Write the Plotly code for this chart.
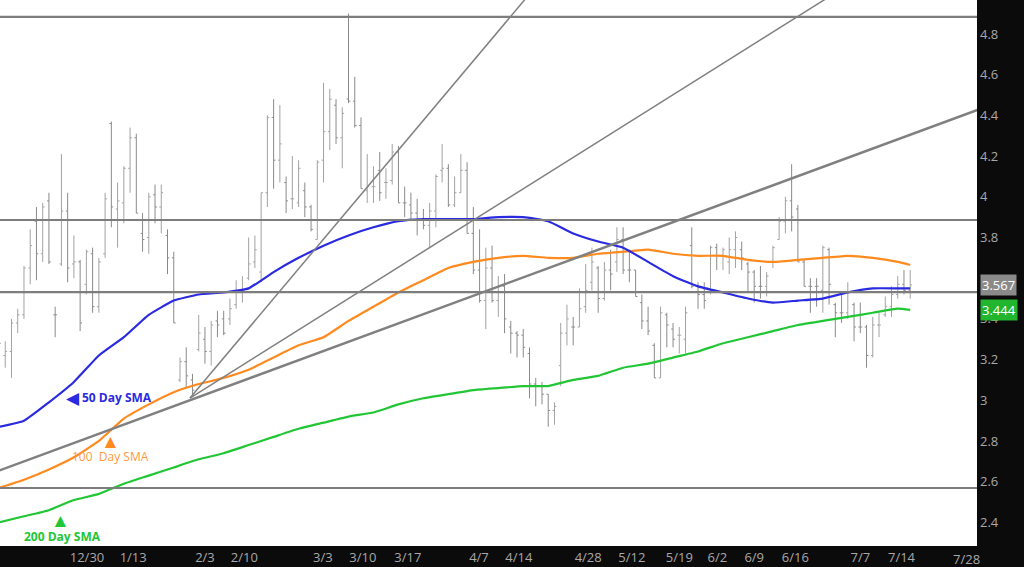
import plotly.graph_objects as go

# daily bars (bar index 0..146)
opens = [3.25, 3.22, 3.24, 3.38, 3.42, 3.65, 3.88, 3.72, 3.98, 3.42,
         3.67, 3.93, 3.67, 3.68, 3.57, 3.72, 3.46, 3.72, 4.36, 3.94,
         3.97, 4.14, 4.29, 3.82, 3.80, 4.01, 3.95, 3.81, 3.70, 3.10,
         3.19, 3.10, 3.25, 3.30, 3.24, 3.39, 3.40, 3.40, 3.47, 3.54,
         3.60, 3.68, 3.63, 4.02, 4.39, 4.18, 4.07, 3.99, 3.97, 4.03,
         3.95, 3.79, 4.18, 4.32, 4.45, 4.29, 4.48, 4.47, 4.35, 4.03,
         4.05, 4.13, 4.07, 4.08, 4.22, 3.97, 3.96, 3.92, 3.89, 3.86,
         3.93, 4.13, 4.14, 3.96, 4.02, 4.13, 3.82, 3.64, 3.49, 3.65,
         3.49, 3.56, 3.36, 3.33, 3.32, 3.23, 3.08, 3.07, 3.03, 2.95,
         3.17, 3.33, 3.36, 3.36, 3.46, 3.58, 3.65, 3.50, 3.64, 3.68,
         3.79, 3.64, 3.64, 3.48, 3.39, 3.27, 3.11, 3.42, 3.35, 3.32,
         3.30, 3.76, 3.56, 3.52, 3.53, 3.75, 3.71, 3.68, 3.74, 3.74,
         3.67, 3.63, 3.56, 3.56, 3.68, 3.79, 3.88, 3.98, 3.94, 3.68,
         3.56, 3.56, 3.54, 3.74, 3.47, 3.43, 3.43, 3.47, 3.36, 3.36,
         3.22, 3.37, 3.42, 3.46, 3.52, 3.57, 3.54]
highs = [3.35, 3.29, 3.40, 3.45, 3.66, 3.84, 3.95, 3.97, 4.02, 3.46,
         4.21, 4.02, 3.81, 3.69, 3.74, 3.75, 3.70, 4.02, 4.37, 4.07,
         4.15, 4.34, 4.31, 3.92, 4.02, 4.06, 4.06, 3.84, 3.73, 3.21,
         3.26, 3.13, 3.42, 3.36, 3.39, 3.44, 3.44, 3.50, 3.59, 3.61,
         3.80, 3.81, 4.02, 4.40, 4.48, 4.45, 4.10, 4.20, 4.18, 4.07,
         3.96, 4.18, 4.56, 4.53, 4.48, 4.44, 4.90, 4.59, 4.39, 4.21,
         4.15, 4.22, 4.14, 4.26, 4.25, 4.05, 4.02, 3.99, 3.94, 3.97,
         4.11, 4.26, 4.16, 4.10, 4.21, 4.17, 3.95, 3.84, 3.75, 3.76,
         3.61, 3.62, 3.39, 3.34, 3.35, 3.26, 3.11, 3.09, 3.03, 2.99,
         3.38, 3.47, 3.41, 3.55, 3.67, 3.75, 3.66, 3.68, 3.74, 3.85,
         3.85, 3.74, 3.64, 3.52, 3.46, 3.28, 3.46, 3.43, 3.38, 3.36,
         3.46, 3.85, 3.58, 3.58, 3.76, 3.77, 3.75, 3.80, 3.83, 3.78,
         3.68, 3.64, 3.66, 3.63, 3.76, 3.90, 4.00, 4.16, 3.96, 3.69,
         3.60, 3.60, 3.76, 3.75, 3.48, 3.53, 3.58, 3.48, 3.48, 3.37,
         3.41, 3.43, 3.51, 3.56, 3.61, 3.64, 3.64]
lows = [3.19, 3.16, 3.11, 3.33, 3.40, 3.57, 3.59, 3.68, 3.67, 3.31,
        3.66, 3.58, 3.60, 3.34, 3.52, 3.43, 3.43, 3.70, 3.85, 3.75,
        3.87, 4.02, 3.92, 3.73, 3.72, 3.87, 3.82, 3.62, 3.38, 3.09,
        3.06, 3.02, 3.24, 3.18, 3.17, 3.31, 3.32, 3.37, 3.45, 3.48,
        3.59, 3.65, 3.58, 3.95, 4.04, 4.07, 3.92, 3.94, 3.95, 3.90,
        3.83, 3.79, 4.07, 4.23, 4.26, 4.14, 4.46, 4.34, 4.04, 3.97,
        3.97, 3.98, 3.99, 4.06, 3.97, 3.90, 3.88, 3.81, 3.84, 3.75,
        3.85, 4.07, 3.95, 3.95, 4.02, 3.82, 3.62, 3.48, 3.35, 3.48,
        3.41, 3.33, 3.23, 3.21, 3.21, 3.01, 2.97, 2.98, 2.87, 2.88,
        3.07, 3.27, 3.27, 3.36, 3.43, 3.54, 3.43, 3.49, 3.54, 3.63,
        3.62, 3.58, 3.51, 3.35, 3.32, 3.11, 3.11, 3.26, 3.26, 3.23,
        3.23, 3.55, 3.45, 3.45, 3.52, 3.64, 3.64, 3.62, 3.65, 3.64,
        3.53, 3.48, 3.50, 3.51, 3.65, 3.79, 3.82, 3.83, 3.68, 3.56,
        3.43, 3.46, 3.43, 3.47, 3.31, 3.38, 3.40, 3.29, 3.33, 3.16,
        3.21, 3.31, 3.41, 3.41, 3.50, 3.52, 3.50]
closes = [3.28, 3.24, 3.38, 3.42, 3.65, 3.76, 3.72, 3.95, 3.68, 3.42,
          3.93, 3.65, 3.68, 3.38, 3.73, 3.46, 3.68, 3.99, 3.95, 3.98,
          4.14, 4.29, 3.92, 3.79, 4.00, 3.95, 4.02, 3.70, 3.38, 3.19,
          3.12, 3.05, 3.33, 3.24, 3.37, 3.37, 3.33, 3.45, 3.54, 3.54,
          3.67, 3.74, 4.02, 4.39, 4.18, 4.26, 3.98, 3.99, 4.14, 3.95,
          3.84, 4.17, 4.32, 4.48, 4.29, 4.41, 4.47, 4.35, 4.04, 4.05,
          4.05, 4.02, 4.07, 4.22, 3.97, 3.97, 3.92, 3.89, 3.86, 3.93,
          4.10, 4.14, 3.96, 4.02, 4.13, 3.82, 3.64, 3.49, 3.65, 3.49,
          3.56, 3.40, 3.33, 3.32, 3.26, 3.08, 3.07, 3.03, 2.95, 2.97,
          3.33, 3.40, 3.36, 3.45, 3.54, 3.68, 3.50, 3.64, 3.62, 3.79,
          3.64, 3.64, 3.51, 3.39, 3.34, 3.11, 3.43, 3.37, 3.30, 3.32,
          3.43, 3.56, 3.52, 3.49, 3.75, 3.71, 3.74, 3.74, 3.80, 3.70,
          3.63, 3.56, 3.56, 3.61, 3.75, 3.88, 3.98, 3.90, 3.68, 3.56,
          3.56, 3.56, 3.75, 3.57, 3.43, 3.43, 3.53, 3.36, 3.36, 3.22,
          3.37, 3.37, 3.46, 3.52, 3.57, 3.54, 3.567]

# moving averages, sampled every 4 bars
sma_idx = [0, 4, 8, 12, 16, 20, 24, 28, 32, 36, 40, 44, 48, 52, 56, 60, 64, 68, 72,
           76, 80, 84, 88, 92, 96, 100, 104, 108, 112, 116, 120, 124, 128, 132,
           136, 140, 144, 146]
sma50 = [2.87, 2.90, 2.99, 3.09, 3.22, 3.31, 3.42, 3.49, 3.52, 3.53, 3.55, 3.63,
         3.70, 3.76, 3.81, 3.85, 3.88, 3.89, 3.89, 3.89, 3.90, 3.90, 3.88, 3.82,
         3.78, 3.75, 3.68, 3.61, 3.56, 3.53, 3.50, 3.48, 3.49, 3.50, 3.53, 3.55,
         3.55, 3.55]
sma100 = [2.57, 2.61, 2.66, 2.72, 2.80, 2.91, 2.98, 3.04, 3.08, 3.11, 3.15, 3.21,
          3.27, 3.31, 3.39, 3.46, 3.53, 3.59, 3.65, 3.68, 3.70, 3.71, 3.70, 3.70,
          3.72, 3.73, 3.74, 3.72, 3.71, 3.71, 3.69, 3.68, 3.69, 3.70, 3.71, 3.70,
          3.68, 3.665]
sma200 = [2.40, 2.43, 2.46, 2.51, 2.54, 2.59, 2.63, 2.67, 2.71, 2.74, 2.78, 2.82,
          2.86, 2.89, 2.92, 2.94, 2.98, 3.01, 3.03, 3.05, 3.06, 3.07, 3.07, 3.10,
          3.12, 3.16, 3.18, 3.21, 3.24, 3.28, 3.31, 3.34, 3.37, 3.39, 3.41, 3.43,
          3.45, 3.444]

# drawn levels and trend lines
levels = [4.884, 3.886, 3.532, 2.569]
trend_lines = [((30.6, 3.011), (85.1, 5.0), 1.5),
               ((30.6, 3.011), (133.9, 5.0), 1.5),
               ((-2, 2.632), (160, 4.463), 2.5)]

tick_pos = [14.1, 21.5, 33.0, 39.3, 51.9, 58.3, 65.5, 76.9, 83.3, 94.4, 101.4,
            109.0, 115.1, 121.0, 127.6, 138.0, 144.6]
tick_txt = ['12/30', '1/13', '2/3', '2/10', '3/3', '3/10', '3/17', '4/7', '4/14',
            '4/28', '5/12', '5/19', '6/2', '6/9', '6/16', '7/7', '7/14']
# 3.6 sits under the last-price tag
price_ticks = [2.4, 2.6, 2.8, 3.0, 3.2, 3.4, 3.8, 4.0, 4.2, 4.4, 4.6, 4.8]

BLUE, ORANGE, GREEN = '#2a2ae0', '#ff8a1e', '#22c635'
FONT = 'Open Sans'

fig = go.Figure()
fig.add_trace(go.Ohlc(
    x=list(range(len(opens))), open=opens, high=highs, low=lows, close=closes,
    increasing=dict(line=dict(color='#a2a2a2', width=1)),
    decreasing=dict(line=dict(color='#8a8a8a', width=1)),
    tickwidth=0.3, hoverinfo='skip',
))
for vals, col in [(sma200, GREEN), (sma100, ORANGE), (sma50, BLUE)]:
    fig.add_trace(go.Scatter(x=sma_idx, y=vals, mode='lines',
                             line=dict(color=col, width=2.2, shape='spline', smoothing=0.4),
                             hoverinfo='skip'))

for lv in levels:
    fig.add_shape(type='line', xref='paper', x0=0, x1=1, yref='y', y0=lv, y1=lv,
                  line=dict(color='#7d7d7d', width=2.2))
for (a, b, w) in trend_lines:
    fig.add_shape(type='line', x0=a[0], y0=a[1], x1=b[0], y1=b[1],
                  line=dict(color='#808080', width=w))

ann = [
    dict(x=11.9, y=3.016, text='◀', font=dict(color=BLUE, size=17)),
    dict(x=18.9, y=3.016, text='<b>50 Day SMA</b>', font=dict(color=BLUE, size=12)),
    dict(x=17.8, y=2.80, text='▲', font=dict(color=ORANGE, size=19)),
    dict(x=17.9, y=2.726, text='100  Day SMA', font=dict(color='#ff9a40', size=12)),
    dict(x=9.9, y=2.412, text='▲', font=dict(color=GREEN, size=19)),
    dict(x=10.1, y=2.330, text='<b>200 Day SMA</b>', font=dict(color=GREEN, size=12)),
]
for a in ann:
    fig.add_annotation(showarrow=False, xref='x', yref='y', **a)

fig.add_annotation(xref='paper', x=1.003, xanchor='left', yref='y', y=3.567,
                   text='3.567', showarrow=False, bgcolor='#8a8a8a',
                   font=dict(color='white', size=13, family=FONT), borderpad=1)
fig.add_annotation(xref='paper', x=1.003, xanchor='left', yref='y', y=3.444,
                   text='3.444', showarrow=False, bgcolor='#22b52e',
                   font=dict(color='white', size=13, family=FONT), borderpad=1)
fig.add_annotation(xref='paper', x=1.005, yref='paper', y=0, yanchor='top', yshift=-2,
                   text='7/28', showarrow=False, font=dict(color='#a8a8a8', size=13, family=FONT))

fig.update_layout(
    width=1024, height=567,
    paper_bgcolor='#0b0b0b', plot_bgcolor='white',
    margin=dict(l=0, r=47, t=0, b=21),
    showlegend=False, hovermode=False,
    font=dict(family=FONT, color='#a8a8a8', size=13),
    xaxis=dict(range=[0.16, 156.7], tickvals=tick_pos, ticktext=tick_txt,
               showgrid=False, zeroline=False, rangeslider=dict(visible=False),
               ticks='', ticklabelstandoff=2),
    yaxis=dict(range=[2.284, 4.967], side='right', tickvals=price_ticks, tickformat='~g',
               showgrid=False, zeroline=False, ticks='', ticklabelstandoff=2),
)

fig.write_html("out.html", config={'displayModeBar': False},
               post_script="document.body.style.margin='0';")
